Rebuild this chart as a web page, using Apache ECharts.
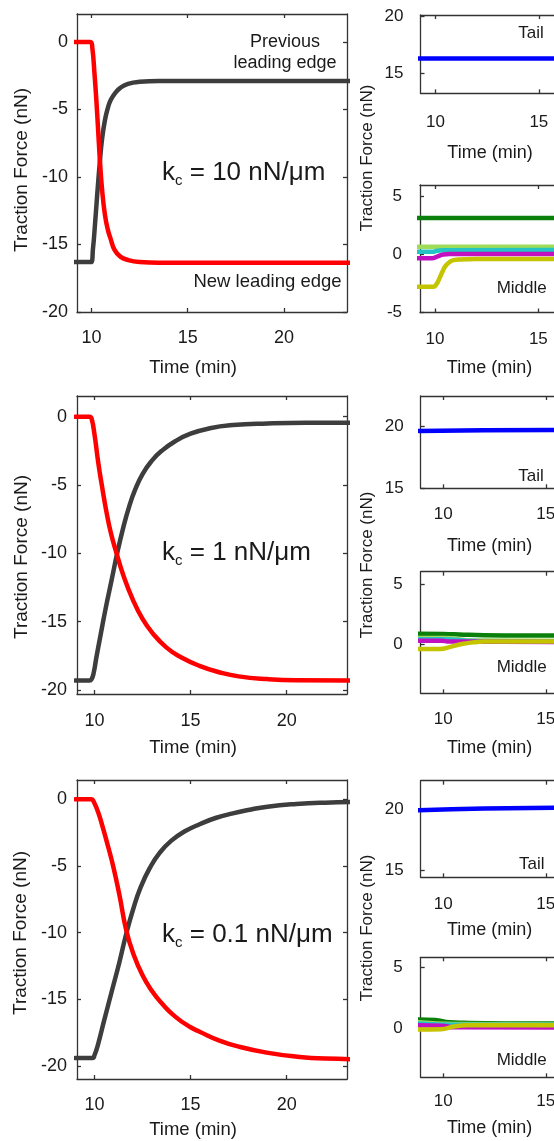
<!DOCTYPE html>
<html>
<head>
<meta charset="utf-8">
<script src="https://cdn.jsdelivr.net/npm/echarts@6/dist/echarts.min.js"></script>
<style>
  html, body { margin: 0; padding: 0; background: #fff; }
  #chart { width: 554px; height: 1141px; }
</style>
</head>
<body>
<div id="chart"></div>
<script>
// tick values
const timeTicks = [10, 15, 20];
const forceTicks = [-20, -15, -10, -5, 0];
const tailTicks = [15, 20];
const middleTicks = [-5, 0, 5];

// row 1: k_c = 10 nN/um  (time min, force nN)
const newEdge10 = [[9.0,0],[9.95,0],[10.05,-0.5],[10.15,-2.2],[10.25,-4.2],[10.35,-6.6],[10.45,-9.0],[10.55,-10.9],[10.7,-12.8],[10.85,-13.9],[11.0,-14.6],[11.2,-15.4],[11.5,-15.9],[11.9,-16.15],[12.5,-16.3],[13.5,-16.35],[24,-16.35]];
const prevEdge10 = [[9.0,-16.3],[9.98,-16.3],[10.08,-15.3],[10.18,-13.6],[10.3,-11.3],[10.43,-9.0],[10.55,-7.2],[10.7,-5.8],[10.85,-4.9],[11.0,-4.3],[11.25,-3.75],[11.5,-3.4],[11.9,-3.1],[12.5,-2.95],[13.5,-2.9],[24,-2.9]];
const tail10 = [[8.8,16.3],[17,16.3]];
const midDkGreen10 = [[8.8,3.15],[17,3.15]];
const midLtGreen10 = [[8.8,0.67],[17,0.67]];
const midCyan10 = [[8.8,0.24],[9.85,0.24],[10.1,0.32],[10.4,0.38],[17,0.39]];
const midMagenta10 = [[8.8,-0.33],[9.85,-0.33],[10.1,-0.18],[10.4,0.0],[10.7,0.04],[17,0.04]];
const midYellow10 = [[8.8,-2.78],[9.92,-2.78],[10.05,-2.6],[10.2,-2.1],[10.35,-1.5],[10.5,-1.0],[10.7,-0.65],[10.9,-0.48],[11.2,-0.42],[12,-0.39],[17,-0.39]];

// row 2: k_c = 1 nN/um
const newEdge1 = [[9.0,0],[9.75,0],[9.85,-0.15],[10.0,-1.3],[10.2,-3.4],[10.38,-5],[10.6,-6.8],[10.85,-8.5],[11.15,-10],[11.5,-11.6],[12.0,-13.4],[12.5,-14.8],[13.0,-15.8],[13.75,-16.9],[14.5,-17.6],[15.5,-18.25],[16.5,-18.7],[17.5,-19.0],[19,-19.2],[20.5,-19.28],[24,-19.3]];
const prevEdge1 = [[9.0,-19.3],[9.75,-19.3],[9.85,-19.2],[9.95,-18.8],[10.1,-17.6],[10.3,-16.1],[10.6,-13.9],[10.9,-11.9],[11.18,-10],[11.5,-8.1],[11.8,-6.6],[12.1,-5.4],[12.5,-4.2],[13.0,-3.2],[13.5,-2.5],[14.2,-1.8],[15,-1.25],[16,-0.85],[17.2,-0.62],[19,-0.5],[21,-0.45],[24,-0.45]];
const tail1 = [[8.8,19.6],[12,19.65],[17,19.7]];
const midDkGreen1 = [[8.8,0.9],[10,0.88],[11,0.82],[12,0.78],[14,0.75],[17,0.74]];
const midLtGreen1 = [[8.8,0.55],[10,0.55],[11.5,0.35],[17,0.3]];
const midCyan1 = [[8.8,0.45],[10,0.45],[11.5,0.3],[17,0.25]];
const midMagenta1 = [[8.8,0.33],[9.9,0.33],[10.3,0.25],[17,0.22]];
const midYellow1 = [[8.8,-0.35],[9.85,-0.35],[10.3,-0.2],[10.9,0.05],[11.5,0.2],[12,0.25],[17,0.27]];

// row 3: k_c = 0.1 nN/um
const newEdge01 = [[9.0,0],[9.85,0],[9.95,-0.15],[10.2,-1.0],[10.45,-2.2],[10.7,-3.5],[10.97,-5],[11.3,-7.2],[11.65,-9.8],[12.0,-11.5],[12.5,-13.2],[13.0,-14.4],[13.5,-15.3],[14.2,-16.3],[15.0,-17.1],[15.5,-17.45],[16.5,-18.1],[17.5,-18.55],[18.96,-19.0],[20.5,-19.3],[22,-19.45],[24,-19.5]];
const prevEdge01 = [[9.0,-19.4],[9.9,-19.4],[10.0,-19.2],[10.2,-18.3],[10.5,-16.6],[10.9,-14.4],[11.3,-12.2],[11.65,-10.1],[12.0,-8.3],[12.4,-6.6],[12.9,-5.1],[13.4,-4.0],[14.0,-3.1],[14.7,-2.4],[15.5,-1.85],[16.3,-1.4],[17.2,-1.05],[18,-0.8],[19,-0.55],[20.5,-0.35],[22,-0.25],[24,-0.2]];
const tail01 = [[8.8,19.95],[12,20.1],[17,20.2]];
const midDkGreen01 = [[8.8,0.72],[9.6,0.68],[10.3,0.5],[11,0.45],[13,0.4],[17,0.38]];
const midLtGreen01 = [[8.8,0.5],[10.5,0.35],[17,0.3]];
const midCyan01 = [[8.8,0.4],[10.5,0.3],[17,0.28]];
const midMagenta01 = [[8.8,0.25],[9.9,0.22],[10.5,0.08],[17,0.05]];
const midYellow01 = [[8.8,-0.1],[9.9,-0.08],[10.5,0.15],[11.2,0.25],[17,0.25]];

const FONT = "'Liberation Sans', Arial, sans-serif";
const AXIS = '#333';
const TXT = '#1a1a1a';

const chart = echarts.init(document.getElementById('chart'), null, { renderer: 'canvas' });

const grid = [], xAxis = [], yAxis = [], series = [];

function axisBase(ticks, showLabel, margin, fontSize) {
  return {
    axisLine: { show: true, onZero: false, lineStyle: { color: AXIS, width: 1.3 } },
    axisTick: { show: true, inside: true, length: 4, customValues: ticks, lineStyle: { color: AXIS, width: 1.3 } },
    axisLabel: { show: showLabel, customValues: ticks, margin: margin, color: TXT, fontSize: fontSize, fontFamily: FONT },
    splitLine: { show: false }
  };
}

// one panel = grid + bottom/top x axes + left/right y axes + its lines
function addPanel(p) {
  const gi = grid.length;
  grid.push({ left: p.left, top: p.top, width: p.width, height: p.height, outerBoundsMode: 'none' });
  const xb = xAxis.length;
  xAxis.push(Object.assign({
    type: 'value', gridIndex: gi, position: 'bottom', min: p.x[0], max: p.x[1],
    name: p.xName || '', nameLocation: 'middle', nameGap: p.xNameGap || 0,
    nameTextStyle: { fontSize: 18, color: TXT, fontFamily: FONT }
  }, axisBase(p.xTicks, true, p.xMargin, p.fontSize)));
  xAxis.push(Object.assign({ type: 'value', gridIndex: gi, position: 'top', min: p.x[0], max: p.x[1] },
    axisBase(p.xTicks, false, 0, p.fontSize)));
  const yb = yAxis.length;
  yAxis.push(Object.assign({ type: 'value', gridIndex: gi, position: 'left', min: p.y[0], max: p.y[1] },
    axisBase(p.yTicks, true, p.yMargin, p.fontSize)));
  yAxis.push(Object.assign({ type: 'value', gridIndex: gi, position: 'right', min: p.y[0], max: p.y[1] },
    axisBase(p.yTicks, false, 0, p.fontSize)));
  p.lines.forEach(l => {
    series.push({
      type: 'line', xAxisIndex: xb, yAxisIndex: yb, data: l.data,
      symbol: 'none', smooth: 0.5, clip: true, silent: true,
      lineStyle: { color: l.color, width: l.width || 4.5, cap: 'round', join: 'round' }
    });
  });
}

const RED = '#ff0000', GRAY = '#3d3d3d', BLUE = '#0000ff';
const DKGREEN = '#0a800a', LTGREEN = '#9edc5a', CYAN = '#22c4c4', MAGENTA = '#c010c0', YELLOW = '#c4c400';

function middleLines(dk, lt, cy, mg, ye) {
  return [
    { data: dk, color: DKGREEN }, { data: lt, color: LTGREEN }, { data: cy, color: CYAN },
    { data: mg, color: MAGENTA }, { data: ye, color: YELLOW }
  ];
}

// left panels
addPanel({ left: 77, top: 14, width: 270, height: 298, x: [9.25, 23.27], y: [-20, 2.07],
  xTicks: timeTicks, yTicks: forceTicks, xMargin: 17, yMargin: 9, fontSize: 18,
  lines: [{ data: prevEdge10, color: GRAY }, { data: newEdge10, color: RED }] });
addPanel({ left: 77, top: 396, width: 270, height: 298, x: [9.09, 23.14], y: [-20.29, 1.51],
  xTicks: timeTicks, yTicks: forceTicks, xMargin: 18, yMargin: 10, fontSize: 18,
  lines: [{ data: prevEdge1, color: GRAY }, { data: newEdge1, color: RED }] });
addPanel({ left: 77, top: 780, width: 270, height: 299, x: [9.09, 23.14], y: [-20.98, 1.45],
  xTicks: timeTicks, yTicks: forceTicks, xMargin: 17, yMargin: 10, fontSize: 18,
  lines: [{ data: prevEdge01, color: GRAY }, { data: newEdge01, color: RED }] });

// right column, tail panels
addPanel({ left: 420.5, top: 15, width: 139, height: 78.3, x: [9.27, 16.0], y: [13.25, 20.1],
  xTicks: timeTicks, yTicks: tailTicks, xMargin: 21, yMargin: 17, fontSize: 17,
  xName: 'Time (min)', xNameGap: 51,
  lines: [{ data: tail10, color: BLUE }] });
addPanel({ left: 420.7, top: 396, width: 138, height: 92.3, x: [8.9, 15.63], y: [15, 22.4],
  xTicks: timeTicks, yTicks: tailTicks, xMargin: 18, yMargin: 17, fontSize: 17,
  xName: 'Time (min)', xNameGap: 49,
  lines: [{ data: tail1, color: BLUE }] });
addPanel({ left: 420.7, top: 780.7, width: 138, height: 96.6, x: [8.9, 15.63], y: [14.4, 22.4],
  xTicks: timeTicks, yTicks: tailTicks, xMargin: 19, yMargin: 17, fontSize: 17,
  xName: 'Time (min)', xNameGap: 44,
  lines: [{ data: tail01, color: BLUE }] });

// right column, middle panels
addPanel({ left: 420, top: 185, width: 139, height: 127.5, x: [9.27, 16.0], y: [-5, 6],
  xTicks: timeTicks, yTicks: middleTicks, xMargin: 18.5, yMargin: 18, fontSize: 17,
  xName: 'Time (min)', xNameGap: 47,
  lines: middleLines(midDkGreen10, midLtGreen10, midCyan10, midMagenta10, midYellow10) });
addPanel({ left: 420.7, top: 571.7, width: 138, height: 121.6, x: [8.9, 15.63], y: [-4, 6],
  xTicks: timeTicks, yTicks: middleTicks, xMargin: 18, yMargin: 18, fontSize: 17,
  xName: 'Time (min)', xNameGap: 46,
  lines: middleLines(midDkGreen1, midLtGreen1, midCyan1, midMagenta1, midYellow1) });
addPanel({ left: 420.7, top: 957.3, width: 138, height: 120, x: [8.9, 15.63], y: [-4, 5.8],
  xTicks: timeTicks, yTicks: middleTicks, xMargin: 15.5, yMargin: 18, fontSize: 17,
  xName: 'Time (min)', xNameGap: 42,
  lines: middleLines(midDkGreen01, midLtGreen01, midCyan01, midMagenta01, midYellow01) });

function label(x, y, text, size, opts) {
  return Object.assign({
    type: 'text', x: x, y: y, silent: true,
    style: { text: text, fontSize: size, fill: TXT, fontFamily: FONT, align: 'center', verticalAlign: 'middle', lineHeight: size * 1.2 }
  }, opts || {});
}
function kc(x, y, value) {
  return {
    type: 'text', x: x, y: y, silent: true,
    style: {
      text: '{b|k}{s|c}{b| = ' + value + ' nN/μm}',
      fontFamily: FONT, fill: TXT, align: 'left', verticalAlign: 'middle',
      rich: {
        b: { fontSize: 26, fontFamily: FONT, fill: TXT, lineHeight: 30 },
        s: { fontSize: 15, fontFamily: FONT, fill: TXT, verticalAlign: 'bottom', lineHeight: 30 }
      }
    }
  };
}

const ROT = { rotation: Math.PI / 2 };
const graphic = [
  label(21.7, 170, 'Traction Force (nN)', 19, ROT),
  label(21.7, 557, 'Traction Force (nN)', 19, ROT),
  label(20.5, 933, 'Traction Force (nN)', 19, ROT),
  label(367.5, 158, 'Traction Force (nN)', 17, ROT),
  label(367, 565, 'Traction Force (nN)', 17, ROT),
  label(367, 928, 'Traction Force (nN)', 17, ROT),
  label(193, 368.3, 'Time (min)', 18.5),
  label(193, 748.3, 'Time (min)', 18.5),
  label(193, 1130, 'Time (min)', 18.5),
  label(285, 52.5, 'Previous\nleading edge', 18),
  label(267.5, 281.7, 'New leading edge', 18.5),
  kc(162, 173.3, '10'),
  kc(162, 553.3, '1'),
  kc(162, 935, '0.1'),
  label(531, 33.3, 'Tail', 17),
  label(531, 476, 'Tail', 17),
  label(531.7, 864, 'Tail', 17),
  label(521.7, 288.3, 'Middle', 17),
  label(521.7, 667.3, 'Middle', 17),
  label(521.7, 1060.7, 'Middle', 17)
];

chart.setOption({
  animation: false,
  backgroundColor: '#fff',
  textStyle: { fontFamily: FONT },
  grid: grid,
  xAxis: xAxis,
  yAxis: yAxis,
  series: series,
  graphic: graphic
});
</script>
</body>
</html>
